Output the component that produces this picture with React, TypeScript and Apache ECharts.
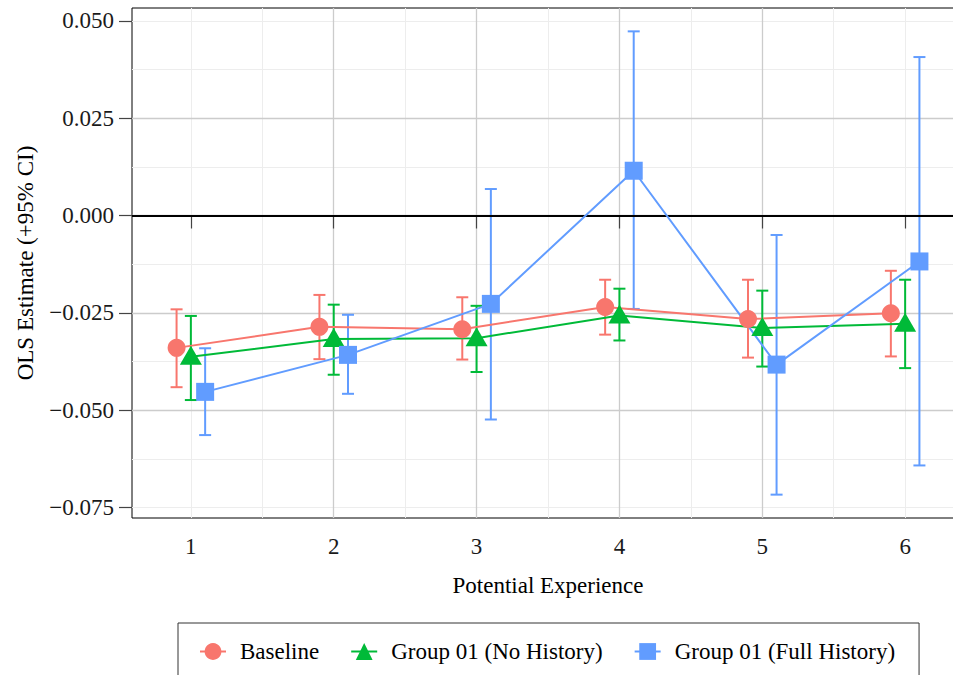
import React, { useEffect, useRef } from 'react';
import * as echarts from 'echarts';

const experience = [1, 2, 3, 4, 5, 6];
const yTicks = [-0.075, -0.05, -0.025, 0, 0.025, 0.05];

const seriesNames = ['Baseline', 'Group 01 (No History)', 'Group 01 (Full History)'];

const baselineEst = [-0.034, -0.0286, -0.0292, -0.0235, -0.0266, -0.0251];
const baselineLo = [-0.0441, -0.0369, -0.037, -0.0306, -0.0365, -0.0362];
const baselineHi = [-0.0241, -0.0204, -0.021, -0.0165, -0.0165, -0.0142];

const noHistEst = [-0.0363, -0.0317, -0.0315, -0.0257, -0.0289, -0.0278];
const noHistLo = [-0.0474, -0.0409, -0.0402, -0.0321, -0.0388, -0.0392];
const noHistHi = [-0.0258, -0.0229, -0.0232, -0.0188, -0.0193, -0.0165];

const fullHistEst = [-0.0453, -0.0358, -0.0227, 0.0115, -0.0383, -0.0118];
const fullHistLo = [-0.0564, -0.0458, -0.0524, -0.024, -0.0717, -0.0642];
const fullHistHi = [-0.0341, -0.0255, 0.0068, 0.0473, -0.005, 0.0407];

const FONT = '"Liberation Serif", "Times New Roman", serif';

export default function App() {
  const ref = useRef<HTMLDivElement>(null);
  useEffect(() => {
    if (!ref.current) return;
    const chart = echarts.init(ref.current, null, { renderer: 'svg' });

    const groups = [
      { name: seriesNames[0], est: baselineEst, lo: baselineLo, hi: baselineHi, color: '#F8766D', dodge: -0.1, symbol: 'circle', size: 18, offset: [0, 0] },
      { name: seriesNames[1], est: noHistEst, lo: noHistLo, hi: noHistHi, color: '#00BA38', dodge: 0, symbol: 'triangle', size: [22, 19], offset: [0, -1.5] },
      { name: seriesNames[2], est: fullHistEst, lo: fullHistLo, hi: fullHistHi, color: '#619CFF', dodge: 0.1, symbol: 'rect', size: 18, offset: [0, 0] },
    ];

    const series: any[] = [];
    groups.forEach((g) => {
      series.push({
        type: 'custom',
        name: g.name + ' CI',
        xAxisIndex: 1,
        yAxisIndex: 1,
        z: 1,
        silent: true,
        encode: { x: 0, y: [1, 2] },
        data: experience.map((x, i) => [x + g.dodge, g.lo[i], g.hi[i]]),
        renderItem: (params: any, api: any) => {
          const x = api.value(0);
          const lo = api.value(1);
          const hi = api.value(2);
          const pHi = api.coord([x, hi]);
          const pLo = api.coord([x, lo]);
          const hw = 6;
          const style = { stroke: g.color, lineWidth: 2, fill: 'none' };
          return {
            type: 'group',
            children: [
              { type: 'line', shape: { x1: pHi[0], y1: pHi[1], x2: pLo[0], y2: pLo[1] }, style },
              { type: 'line', shape: { x1: pHi[0] - hw, y1: pHi[1], x2: pHi[0] + hw, y2: pHi[1] }, style },
              { type: 'line', shape: { x1: pLo[0] - hw, y1: pLo[1], x2: pLo[0] + hw, y2: pLo[1] }, style },
            ],
          };
        },
      });
    });
    groups.forEach((g, gi) => {
      const s: any = {
        type: 'line',
        name: g.name,
        xAxisIndex: 1,
        yAxisIndex: 1,
        z: 3,
        data: experience.map((x, i) => [x + g.dodge, g.est[i]]),
        symbol: g.symbol,
        symbolSize: g.size,
        symbolOffset: g.offset,
        showSymbol: true,
        lineStyle: { color: g.color, width: 2 },
        itemStyle: { color: g.color, borderWidth: 0 },
      };
      if (gi === 0) {
        s.markLine = {
          silent: true,
          symbol: ['none', 'none'],
          label: { show: false },
          lineStyle: { color: '#000', width: 2, type: 'solid' },
          data: [{ yAxis: 0 }],
          z: 2,
        };
      }
      series.push(s);
    });

    const yFmt = (v: number) => (v < 0 ? '\u2212' : '') + Math.abs(v).toFixed(3);

    const option: any = {
      animation: false,
      backgroundColor: '#ffffff',
      textStyle: { fontFamily: FONT },
      grid: {
        left: 132,
        top: 8,
        width: 832,
        height: 510,
        show: true,
        borderColor: '#000',
        borderWidth: 1,
        backgroundColor: 'transparent',
      },
      legend: {
        data: seriesNames,
        left: 178,
        top: 623,
        orient: 'horizontal',
        padding: [17, 24, 17, 21],
        itemGap: 31,
        itemWidth: 26,
        itemHeight: 21,
        borderColor: '#333',
        borderWidth: 1,
        selectedMode: false,
        textStyle: { fontFamily: FONT, fontSize: 23, color: '#000', padding: [0, 0, 0, 9] },
      },
      xAxis: [
        {
          type: 'value',
          position: 'top',
          min: 0.588,
          max: 6.412,
          minInterval: 0.5,
          maxInterval: 0.5,
          z: 0,
          axisLine: { show: false },
          axisTick: { show: false },
          axisLabel: { show: false },
          splitLine: { show: true, showMinLine: false, showMaxLine: false, lineStyle: { color: '#ededed', width: 1 } },
        },
        {
          type: 'value',
          position: 'bottom',
          min: 0.588,
          max: 6.412,
          minInterval: 1,
          maxInterval: 1,
          z: 1,
          name: 'Potential Experience',
          nameLocation: 'middle',
          nameGap: 56,
          nameTextStyle: { fontFamily: FONT, fontSize: 23, color: '#000' },
          axisLine: { show: false },
          axisTick: { show: true, length: 13, customValues: experience, lineStyle: { color: '#444', width: 1.2 } },
          axisLabel: { show: true, customValues: experience, margin: 17, fontFamily: FONT, fontSize: 23, color: '#1a1a1a', formatter: (v: number) => String(v) },
          splitLine: { show: true, showMinLine: false, showMaxLine: false, lineStyle: { color: '#cccccc', width: 1.3 } },
        },
      ],
      yAxis: [
        {
          type: 'value',
          position: 'right',
          min: -0.0777,
          max: 0.0533,
          minInterval: 0.0125,
          maxInterval: 0.0125,
          z: 0,
          axisLine: { show: false },
          axisTick: { show: false },
          axisLabel: { show: false },
          splitLine: { show: true, showMinLine: false, showMaxLine: false, lineStyle: { color: '#ededed', width: 1 } },
        },
        {
          type: 'value',
          position: 'left',
          min: -0.0777,
          max: 0.0533,
          minInterval: 0.025,
          maxInterval: 0.025,
          z: 1,
          name: 'OLS Estimate (+95% CI)',
          nameLocation: 'middle',
          nameGap: 95,
          nameRotate: 90,
          nameTextStyle: { fontFamily: FONT, fontSize: 23, color: '#000' },
          axisLine: { show: false },
          axisTick: { show: true, length: 13, customValues: yTicks, lineStyle: { color: '#444', width: 1.2 } },
          axisLabel: { show: true, customValues: yTicks, margin: 18, fontFamily: FONT, fontSize: 23, color: '#1a1a1a', formatter: yFmt },
          splitLine: { show: true, showMinLine: false, showMaxLine: false, lineStyle: { color: '#cccccc', width: 1.3 } },
        },
      ],
      series,
    };

    chart.setOption(option);
    return () => chart.dispose();
  }, []);

  return (
    <div style={{ position: 'fixed', left: 0, top: 0, width: 953, height: 675, overflow: 'hidden', background: '#fff' }}>
      <div ref={ref} style={{ position: 'absolute', left: 0, top: 0, width: 990, height: 700 }} />
    </div>
  );
}
